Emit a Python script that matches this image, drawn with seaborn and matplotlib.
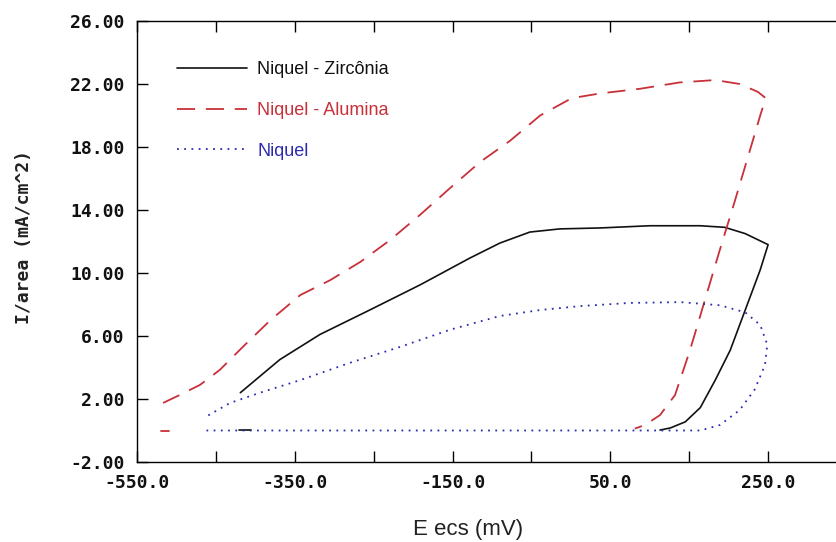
import numpy as np
import pandas as pd
import matplotlib
matplotlib.use("Agg")
import matplotlib.pyplot as plt
import seaborn as sns
from matplotlib.ticker import FixedLocator
from matplotlib.lines import Line2D

# ---- data ----
zr_E = [-419, -369, -318, -255, -191, -128, -90, -52, -14, 37, 100, 164, 195, 221, 250,
        240, 221, 202, 183, 164, 145, 126, 113]
zr_I = [2.4, 4.5, 6.1, 7.65, 9.25, 10.95, 11.9, 12.6, 12.8, 12.86, 13.0, 13.0, 12.9, 12.5, 11.8,
        10.2, 7.65, 5.1, 3.2, 1.45, 0.55, 0.16, 0.03]
zr_E0 = [-421, -405]
zr_I0 = [0.05, 0.05]

al_E = [-517, -496, -470, -445, -413, -381, -343, -305, -267, -229, -191, -153, -115, -77,
        -39, 1, 37, 88, 138, 183, 214, 237, 247,
        240, 227, 208, 189, 170, 151, 132, 113, 94, 81]
al_I = [1.75, 2.25, 2.9, 3.85, 5.45, 7.0, 8.6, 9.55, 10.7, 12.1, 13.7, 15.4, 17.05, 18.4,
        20.0, 21.1, 21.4, 21.7, 22.1, 22.25, 22.0, 21.5, 21.1,
        20.0, 17.8, 14.6, 11.5, 8.3, 5.1, 2.25, 0.98, 0.35, 0.12]
al_E0 = [-520, -510]
al_I0 = [0.0, 0.0]

ni_E = [-462, -300, -100, 100, 164, 189, 214, 233, 246, 249, 240, 221, 189, 139, 75, 12,
        -39, -90, -153, -217, -280, -343, -394, -432, -460]
ni_I = [0.0, 0.0, 0.0, 0.0, 0.0, 0.35, 1.3, 2.6, 4.15, 5.45, 6.7, 7.5, 7.95, 8.15, 8.1, 7.9,
        7.65, 7.27, 6.4, 5.3, 4.3, 3.2, 2.4, 1.75, 0.95]

labels = ["Niquel - Zircônia", "Niquel - Alumina", "Niquel"]
x_ticks = [-550.0, -350.0, -150.0, 50.0, 250.0]
y_ticks = [-2.0, 2.0, 6.0, 10.0, 14.0, 18.0, 22.0, 26.0]

black = "#111111"
red = "#c8303a"
blue = "#2b2bb0"

sns.set_theme(style="white")
plt.rcParams["font.family"] = ["DejaVu Sans"]

W, H = 836, 542
fig = plt.figure(figsize=(W / 100, H / 100), dpi=100)
x0, x1 = 137, 847
y0, y1 = 21, 462
ax = fig.add_axes([x0 / W, 1 - y1 / H, (x1 - x0) / W, (y1 - y0) / H])

df_zr = pd.DataFrame({"E": zr_E, "I": zr_I})
df_al = pd.DataFrame({"E": al_E, "I": al_I})
df_ni = pd.DataFrame({"E": ni_E, "I": ni_I})

sns.lineplot(data=df_zr, x="E", y="I", sort=False, estimator=None, color=black, lw=1.2, ax=ax)
sns.lineplot(data=pd.DataFrame({"E": zr_E0, "I": zr_I0}), x="E", y="I", sort=False,
             estimator=None, color=black, lw=1.2, ax=ax)
sns.lineplot(data=df_al, x="E", y="I", sort=False, estimator=None, color=red, lw=1.3, ax=ax,
             linestyle=(0, (10, 6)))
sns.lineplot(data=pd.DataFrame({"E": al_E0, "I": al_I0}), x="E", y="I", sort=False,
             estimator=None, color=red, lw=1.3, ax=ax)
sns.lineplot(data=df_ni, x="E", y="I", sort=False, estimator=None, color=blue, lw=1.3, ax=ax,
             linestyle=(0, (1, 3)))

ax.set_xlim(-550, 350)
ax.set_ylim(-2, 26)
ax.xaxis.set_major_locator(FixedLocator(x_ticks))
ax.xaxis.set_minor_locator(FixedLocator([-450, -250, -50, 150, 350]))
ax.yaxis.set_major_locator(FixedLocator(y_ticks))
ax.set_xticklabels([f"{v:.1f}" for v in x_ticks])
ax.set_yticklabels([f"{v:.2f}" for v in y_ticks])
ax.tick_params(which="both", direction="in", length=8, width=1, color="black",
               top=True, right=True, bottom=True, left=True)
ax.tick_params(which="major", labelsize=13, pad=9)
for lab in ax.get_xticklabels() + ax.get_yticklabels():
    lab.set_family("DejaVu Sans Mono")
    lab.set_weight("bold")
    lab.set_color("#111111")
for s in ax.spines.values():
    s.set_visible(True)
    s.set_color("black")
    s.set_linewidth(1.0)
ax.set_xlabel("")
ax.set_ylabel("")
ax.grid(False)

fig.text(468 / W, 1 - 529 / H, "E ecs (mV)", ha="center", va="center",
         fontsize=16, family="Liberation Sans", color="#222222")
fig.text(24 / W, 1 - 237 / H, "I/area (mA/cm^2)", ha="center", va="center", rotation=90,
         fontsize=13, family="DejaVu Sans Mono", weight="bold", color="#222222")

handles = [Line2D([], [], color=black, lw=1.2),
           Line2D([], [], color=red, lw=1.3, linestyle=(0, (10, 6))),
           Line2D([], [], color=blue, lw=1.3, linestyle=(0, (1, 3)))]
leg = ax.legend(handles, labels, loc="upper left",
                bbox_to_anchor=((177 - x0) / (x1 - x0), (y1 - 61) / (y1 - y0)),
                frameon=False, handlelength=3.9, handletextpad=0.55,
                labelspacing=1.32, borderpad=0, borderaxespad=0,
                prop={"family": "Liberation Sans", "size": 13})
for t, c in zip(leg.get_texts(), [black, red, blue]):
    t.set_color(c)

fig.savefig("out.png", dpi=100, facecolor="white")
